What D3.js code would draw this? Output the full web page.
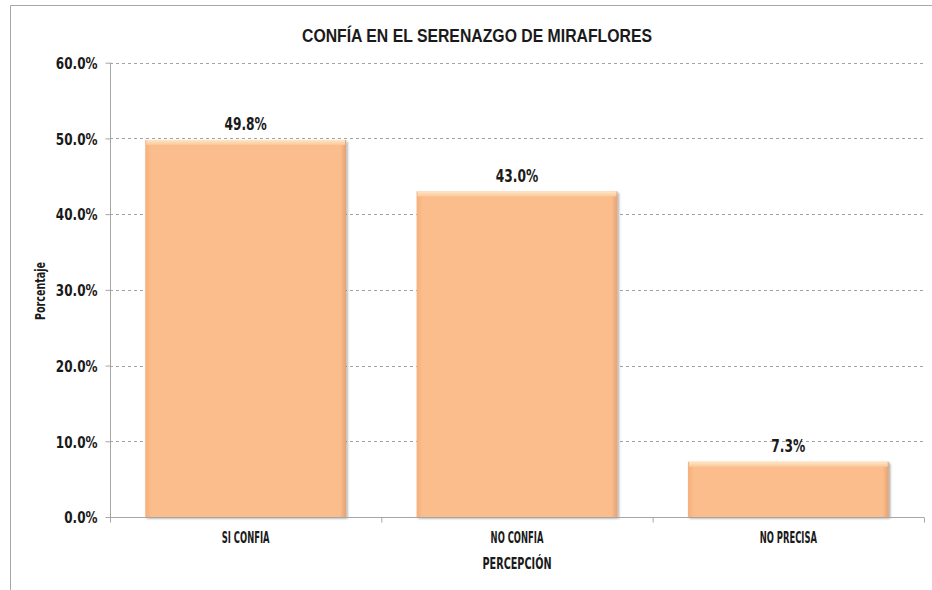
<!DOCTYPE html>
<html><head><meta charset="utf-8">
<script src="https://cdn.jsdelivr.net/npm/d3@7"></script>
<style>
body{margin:0;background:#fff;}
text{font-family:"DejaVu Sans","Liberation Sans",sans-serif;font-weight:bold;fill:#1a1a1a;}
</style></head>
<body><svg id="c" width="932" height="590"></svg>
<script>
const categories = ["SI CONFIA", "NO CONFIA", "NO PRECISA"];
const values = [49.8, 43.0, 7.3];
const yTicks = [0, 10, 20, 30, 40, 50, 60];
const title = "CONFÍA EN EL SERENAZGO DE MIRAFLORES";
const xTitle = "PERCEPCIÓN";
const yTitle = "Porcentaje";

const svg = d3.select("#c");
const W = 932, H = 590;
const m = {left:110, right:8};
const x = d3.scaleBand().domain(categories).range([m.left, W - m.right]).paddingInner(0.26).paddingOuter(0.13);
const y = d3.scaleLinear().domain([0, 60]).range([517, 62.7]);

function squeeze(sel, k){
  sel.each(function(){
    const n = this.getComputedTextLength();
    d3.select(this).attr("textLength", n*k).attr("lengthAdjust","spacingAndGlyphs");
  });
}

// frame
svg.append("path").attr("d", `M10.5,${H} V5.5 H${W}`).attr("fill","none").attr("stroke","#a6a6a6").attr("stroke-width",1);

const defs = svg.append("defs");
const g = defs.append("linearGradient").attr("id","barg").attr("x1",0).attr("y1",0).attr("x2",1).attr("y2",0);
g.append("stop").attr("offset","0%").attr("stop-color","#f4b07c");
g.append("stop").attr("offset","3%").attr("stop-color","#fbbd8c");
g.append("stop").attr("offset","97%").attr("stop-color","#fbbd8c");
g.append("stop").attr("offset","100%").attr("stop-color","#e6a274");
const gt = defs.append("linearGradient").attr("id","topg").attr("x1",0).attr("y1",0).attr("x2",0).attr("y2",1);
gt.append("stop").attr("offset","0%").attr("stop-color","#fde7c8");
gt.append("stop").attr("offset","100%").attr("stop-color","#fcc898");
const flt = defs.append("filter").attr("id","sh").attr("x","-10%").attr("y","-10%").attr("width","120%").attr("height","120%");
flt.append("feDropShadow").attr("dx",1.5).attr("dy",1.5).attr("stdDeviation",1).attr("flood-color","#000").attr("flood-opacity",0.35);

// grid
svg.append("g").selectAll("line").data(yTicks.filter(d=>d>0)).join("line")
  .attr("x1", m.left).attr("x2", W - m.right)
  .attr("y1", d=>Math.round(y(d))+0.5).attr("y2", d=>Math.round(y(d))+0.5)
  .attr("stroke","#8c8c8c").attr("stroke-dasharray","3,3").attr("stroke-width",0.8);

// y axis
const ya = svg.append("g").attr("transform",`translate(${m.left+0.5},0)`)
  .call(d3.axisLeft(y).tickValues(yTicks).tickSize(5).tickFormat(d=>d.toFixed(1)+"%"));
ya.select(".domain").attr("stroke","#a6a6a6").attr("d",`M0,${y(60)}V${y(0)}`);
ya.selectAll(".tick line").attr("stroke","#a6a6a6");
const yt = ya.selectAll(".tick text").attr("x",-13).attr("dy","0.36em").style("font-size","16px").attr("fill","#1a1a1a");
squeeze(yt, 0.75);

// bars
const bars = svg.append("g");
bars.selectAll("rect.b").data(values).join("rect").attr("class","b")
  .attr("x",(d,i)=>x(categories[i])).attr("width",x.bandwidth())
  .attr("y",d=>y(d)).attr("height",d=>y(0)-y(d))
  .attr("fill","url(#barg)").attr("filter","url(#sh)");
bars.selectAll("rect.t").data(values).join("rect").attr("class","t")
  .attr("x",(d,i)=>x(categories[i])+1).attr("width",x.bandwidth()-2)
  .attr("y",d=>y(d)).attr("height",5)
  .attr("fill","url(#topg)");

// value labels
const vl = svg.append("g").selectAll("text").data(values).join("text")
  .attr("x",(d,i)=>x(categories[i])+x.bandwidth()/2)
  .attr("y",d=>y(d)-9.5)
  .attr("text-anchor","middle").style("font-size","17px")
  .text(d=>d.toFixed(1)+"%");
squeeze(vl, 0.72);

// x axis
const xa = svg.append("g").attr("transform",`translate(0,${Math.round(y(0))+0.5})`)
  .call(d3.axisBottom(x).tickSize(0).tickPadding(0));
xa.select(".domain").attr("stroke","#a6a6a6").attr("d",`M${m.left},0H${W-m.right}`);
const xt = xa.selectAll(".tick text").attr("y",25).attr("dy",0).style("font-size","15px").attr("fill","#1a1a1a");
squeeze(xt, 0.56);
const bounds = [m.left, ...categories.slice(1).map(c=>x(c)-x.step()*x.paddingInner()/2), W-m.right];
xa.selectAll("line.sep").data(bounds).join("line").attr("class","sep")
  .attr("x1",d=>d+0.5).attr("x2",d=>d+0.5).attr("y1",0).attr("y2",5).attr("stroke","#a6a6a6");

// titles
const tt = svg.append("text").attr("x",477).attr("y",41.5).attr("text-anchor","middle")
  .style("font-family","'Liberation Sans',Arial,sans-serif").style("font-size","18px").text(title);
tt.attr("textLength",350).attr("lengthAdjust","spacingAndGlyphs");
const xtt = svg.append("text").attr("x",517).attr("y",569).attr("text-anchor","middle").style("font-size","16px").text(xTitle);
xtt.attr("textLength",69).attr("lengthAdjust","spacingAndGlyphs");
const ytt = svg.append("text").attr("transform",`translate(44.5,291) rotate(-90)`).attr("text-anchor","middle").style("font-size","13.5px").text(yTitle);
ytt.attr("textLength",58).attr("lengthAdjust","spacingAndGlyphs");
</script></body></html>
